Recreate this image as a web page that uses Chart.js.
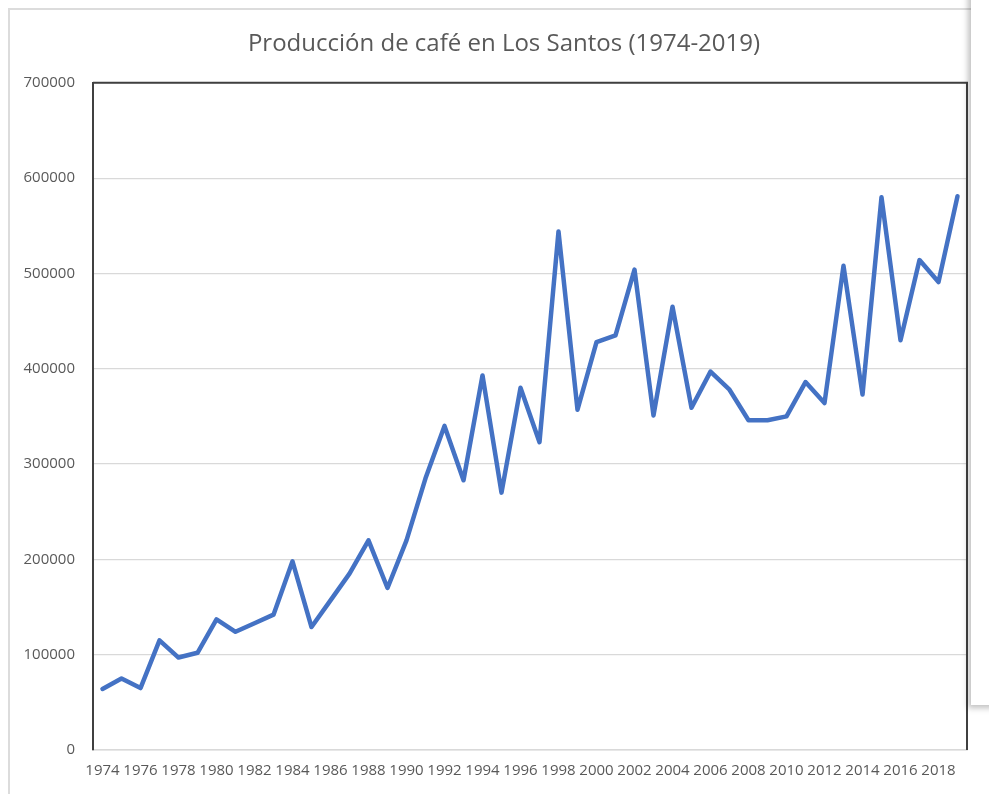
<!DOCTYPE html>
<html>
<head>
<meta charset="utf-8">
<script src="https://cdn.jsdelivr.net/npm/chart.js@4"></script>
<style>
  html, body { margin: 0; padding: 0; background: #fff; }
  #wrap { position: relative; width: 989px; height: 794px; overflow: hidden; }
  #frame { position: absolute; left: 8px; top: 8px; right: 0; bottom: 0;
           border-left: 2px solid #dcdcdc; border-top: 2px solid #dcdcdc; }
  canvas { position: absolute; left: 0; top: 0; }
  #panel { position: absolute; left: 971px; top: -10px; width: 40px; height: 715px;
           background: #fff; box-shadow: -3px 3px 6px rgba(0,0,0,0.25); }
</style>
</head>
<body>
<div id="wrap">
  <div id="frame"></div>
  <canvas id="chart" width="989" height="794"></canvas>
  <div id="panel"></div>
</div>
<script>
const years = [
  "1974","1975","1976","1977","1978","1979","1980","1981","1982","1983",
  "1984","1985","1986","1987","1988","1989","1990","1991","1992","1993",
  "1994","1995","1996","1997","1998","1999","2000","2001","2002","2003",
  "2004","2005","2006","2007","2008","2009","2010","2011","2012","2013",
  "2014","2015","2016","2017","2018","2019"
];
const production = [
  64000, 75000, 65000, 115000, 97000, 102000, 137000, 124000, 133000, 142000,
  198000, 129000, 157000, 185000, 220000, 170000, 220000, 285000, 340000, 283000,
  393000, 270000, 380000, 323000, 544000, 357000, 428000, 435000, 504000, 351000,
  465000, 359000, 397000, 378000, 346000, 346000, 350000, 386000, 364000, 508000,
  373000, 580000, 430000, 514000, 491000, 581000
];
const yTicks = [0, 100000, 200000, 300000, 400000, 500000, 600000, 700000];

// dark top/right edge of the plot area, and title centred a bit right like Excel
const frameLines = {
  id: "frameLines",
  afterLayout(chart) {
    const t = chart.titleBlock;
    if (t) { t.left = 41; t.right = 967; }
  },
  afterDatasetsDraw(chart) {
    const { ctx, chartArea: a } = chart;
    ctx.save();
    ctx.strokeStyle = "#404040";
    ctx.lineWidth = 2;
    ctx.beginPath();
    ctx.moveTo(a.left, a.top);
    ctx.lineTo(a.right, a.top);
    ctx.lineTo(a.right, a.bottom);
    ctx.stroke();
    ctx.restore();
  }
};

const font = "'Open Sans', 'Noto Sans', sans-serif";

new Chart(document.getElementById("chart"), {
  type: "line",
  data: {
    labels: years,
    datasets: [{
      data: production,
      borderColor: "#4472C4",
      borderWidth: 4.5,
      pointRadius: 0,
      tension: 0,
      borderJoinStyle: "round",
      borderCapStyle: "round"
    }]
  },
  options: {
    responsive: false,
    animation: false,
    layout: { padding: { left: 0, right: 22, top: 0, bottom: 0 } },
    plugins: {
      legend: { display: false },
      tooltip: { enabled: false },
      title: {
        display: true,
        text: "Producción de café en Los Santos (1974-2019)",
        color: "#595959",
        font: { family: font, size: 24, weight: "normal" },
        padding: { top: 30, bottom: 24 }
      }
    },
    scales: {
      x: {
        offset: true,
        grid: { display: false, drawTicks: false },
        border: { color: "#d9d9d9", width: 1.5 },
        ticks: {
          autoSkip: false,
          maxRotation: 0,
          padding: 12,
          color: "#595959",
          font: { family: font, size: 15 },
          callback: (v, i) => (i % 2 === 0 ? years[i] : "")
        },
        afterFit: (s) => { s.height = 44; }
      },
      y: {
        min: 0,
        max: 700000,
        afterBuildTicks: (s) => { s.ticks = yTicks.map((v) => ({ value: v })); },
        grid: { color: "#d9d9d9", lineWidth: 1.2, drawTicks: false },
        border: { color: "#404040", width: 2 },
        ticks: {
          padding: 18,
          color: "#595959",
          font: { family: font, size: 15 },
          callback: (v) => String(v)
        },
        afterFit: (s) => { s.width = 93; }
      }
    }
  },
  plugins: [frameLines]
});
</script>
</body>
</html>
